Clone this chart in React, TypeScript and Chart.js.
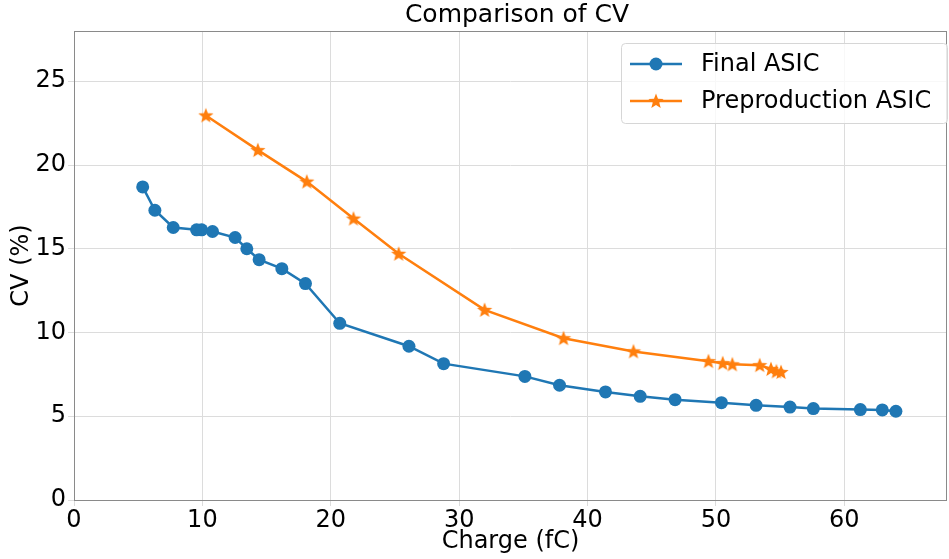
import React, { useEffect, useRef } from 'react';
import { Chart, registerables } from 'chart.js';

Chart.register(...registerables);

const finalCharge = [5.35, 6.3, 7.73, 9.55, 9.94, 10.79, 12.55, 13.46, 14.42, 16.19, 18.03, 20.7, 26.09, 28.79, 35.12, 37.82, 41.4, 44.1, 46.82, 50.43, 53.13, 55.77, 57.59, 61.25, 62.96, 64.02];
const finalCV = [18.69, 17.3, 16.27, 16.13, 16.13, 16.03, 15.67, 15.0, 14.35, 13.81, 12.92, 10.55, 9.18, 8.14, 7.38, 6.85, 6.45, 6.19, 5.99, 5.81, 5.65, 5.55, 5.46, 5.4, 5.38, 5.3];
const preCharge = [10.27, 14.32, 18.13, 21.77, 25.29, 31.98, 38.13, 43.58, 49.42, 50.53, 51.28, 53.41, 54.29, 54.71, 55.07];
const preCV = [22.96, 20.89, 19.01, 16.8, 14.7, 11.35, 9.66, 8.87, 8.29, 8.17, 8.1, 8.05, 7.82, 7.68, 7.64];
const xTickValues = [0, 10, 20, 30, 40, 50, 60];
const yTickValues = [0, 5, 10, 15, 20, 25];
const seriesNames = ['Final ASIC', 'Preproduction ASIC'];
const chartTitle = 'Comparison of CV';
const xLabel = 'Charge (fC)';
const yLabel = 'CV (%)';

const BLUE = '#1f77b4';
const ORANGE = '#ff7f0e';
const FONT = "'DejaVu Sans', sans-serif";

function starPath(ctx: CanvasRenderingContext2D, cx: number, cy: number, R: number, r: number) {
  ctx.beginPath();
  for (let i = 0; i < 10; i++) {
    const rad = i % 2 === 0 ? R : r;
    const a = -Math.PI / 2 + (i * Math.PI) / 5;
    const x = cx + rad * Math.cos(a);
    const y = cy + rad * Math.sin(a);
    if (i === 0) ctx.moveTo(x, y);
    else ctx.lineTo(x, y);
  }
  ctx.closePath();
}

function makeStar(): HTMLCanvasElement {
  const c = document.createElement('canvas');
  c.width = 18;
  c.height = 18;
  const ctx = c.getContext('2d')!;
  ctx.fillStyle = ORANGE;
  starPath(ctx, 9, 9.5, 8, 3.4);
  ctx.fill();
  return c;
}

export default function App() {
  const ref = useRef<HTMLCanvasElement | null>(null);

  useEffect(() => {
    if (!ref.current) return;
    const star = makeStar();

    const overlay = {
      id: 'overlay',
      afterDraw(chart: any) {
        const { ctx, chartArea } = chart;
        const { left, right, top, bottom } = chartArea;
        ctx.save();
        // frame
        ctx.strokeStyle = '#8a8a8a';
        ctx.lineWidth = 1;
        ctx.strokeRect(left + 0.5, top + 0.5, right - left - 1, bottom - top);
        // title
        ctx.fillStyle = '#000';
        ctx.font = `25px ${FONT}`;
        ctx.textAlign = 'center';
        ctx.textBaseline = 'alphabetic';
        ctx.fillText(chartTitle, 517, 22);
        // legend
        const bx = 621.5, by = 43.5, bw = 326, bh = 80;
        ctx.beginPath();
        const rr = 4;
        ctx.moveTo(bx + rr, by);
        ctx.lineTo(bx + bw - rr, by);
        ctx.quadraticCurveTo(bx + bw, by, bx + bw, by + rr);
        ctx.lineTo(bx + bw, by + bh - rr);
        ctx.quadraticCurveTo(bx + bw, by + bh, bx + bw - rr, by + bh);
        ctx.lineTo(bx + rr, by + bh);
        ctx.quadraticCurveTo(bx, by + bh, bx, by + bh - rr);
        ctx.lineTo(bx, by + rr);
        ctx.quadraticCurveTo(bx, by, bx + rr, by);
        ctx.closePath();
        ctx.fillStyle = 'rgba(255,255,255,0.8)';
        ctx.fill();
        ctx.strokeStyle = '#d6d6d6';
        ctx.stroke();
        const rows = [64, 101];
        const colors = [BLUE, ORANGE];
        rows.forEach((y, i) => {
          ctx.strokeStyle = colors[i];
          ctx.lineWidth = 2.5;
          ctx.beginPath();
          ctx.moveTo(630, y);
          ctx.lineTo(682, y);
          ctx.stroke();
          if (i === 0) {
            ctx.fillStyle = BLUE;
            ctx.beginPath();
            ctx.arc(656, y, 6.5, 0, Math.PI * 2);
            ctx.fill();
          } else {
            ctx.fillStyle = ORANGE;
            starPath(ctx, 656, y + 0.5, 8, 3.4);
            ctx.fill();
          }
          ctx.fillStyle = '#000';
          ctx.font = `24px ${FONT}`;
          ctx.textAlign = 'left';
          ctx.textBaseline = 'middle';
          ctx.fillText(seriesNames[i], 701, y + 1);
        });
        ctx.restore();
      },
    };

    const chart = new Chart(ref.current, {
      type: 'line',
      data: {
        datasets: [
          {
            label: seriesNames[0],
            data: finalCharge.map((x, i) => ({ x, y: finalCV[i] })),
            borderColor: BLUE,
            backgroundColor: BLUE,
            borderWidth: 2.5,
            pointRadius: 6.5,
            pointHoverRadius: 6.5,
            pointBorderWidth: 0,
            pointStyle: 'circle',
            tension: 0,
          },
          {
            label: seriesNames[1],
            data: preCharge.map((x, i) => ({ x, y: preCV[i] })),
            borderColor: ORANGE,
            backgroundColor: ORANGE,
            borderWidth: 2.5,
            pointRadius: 8,
            pointStyle: star as any,
            tension: 0,
          },
        ],
      },
      options: {
        animation: false,
        responsive: false,
        maintainAspectRatio: false,
        layout: { autoPadding: false, padding: { top: 31, right: 2, left: 0, bottom: 0 } },
        plugins: {
          legend: { display: false },
          title: { display: false },
          tooltip: { enabled: false },
        },
        scales: {
          x: {
            type: 'linear',
            min: 0,
            max: 68,
            afterBuildTicks: (s: any) => {
              s.ticks = xTickValues.map((v) => ({ value: v }));
            },
            afterFit: (s: any) => {
              s.height = 59;
              s.paddingRight = 0;
              s.paddingLeft = 0;
            },
            grid: { color: '#dcdcdc', tickLength: 6, lineWidth: 1 },
            border: { display: false },
            ticks: { font: { family: FONT, size: 24 }, color: '#000', padding: 0, maxRotation: 0 },
            title: { display: true, text: xLabel, font: { family: FONT, size: 24 }, color: '#000', padding: { top: 0, bottom: 3 } },
          },
          y: {
            type: 'linear',
            min: 0,
            max: 28,
            afterBuildTicks: (s: any) => {
              s.ticks = yTickValues.map((v) => ({ value: v }));
            },
            afterFit: (s: any) => {
              s.width = 74;
              s.paddingTop = 0;
              s.paddingBottom = 0;
            },
            grid: { color: '#dcdcdc', tickLength: 6, lineWidth: 1 },
            border: { display: false },
            ticks: { font: { family: FONT, size: 24 }, color: '#000', padding: 2 },
            title: { display: true, text: yLabel, font: { family: FONT, size: 24 }, color: '#000', padding: { top: 7, bottom: 0 } },
          },
        },
      },
      plugins: [overlay],
    });
    return () => chart.destroy();
  }, []);

  return (
    <div style={{ position: 'fixed', left: 0, top: 0, width: 949, height: 559, background: '#fff' }}>
      <canvas ref={ref} width={949} height={559} style={{ display: 'block' }} />
    </div>
  );
}
